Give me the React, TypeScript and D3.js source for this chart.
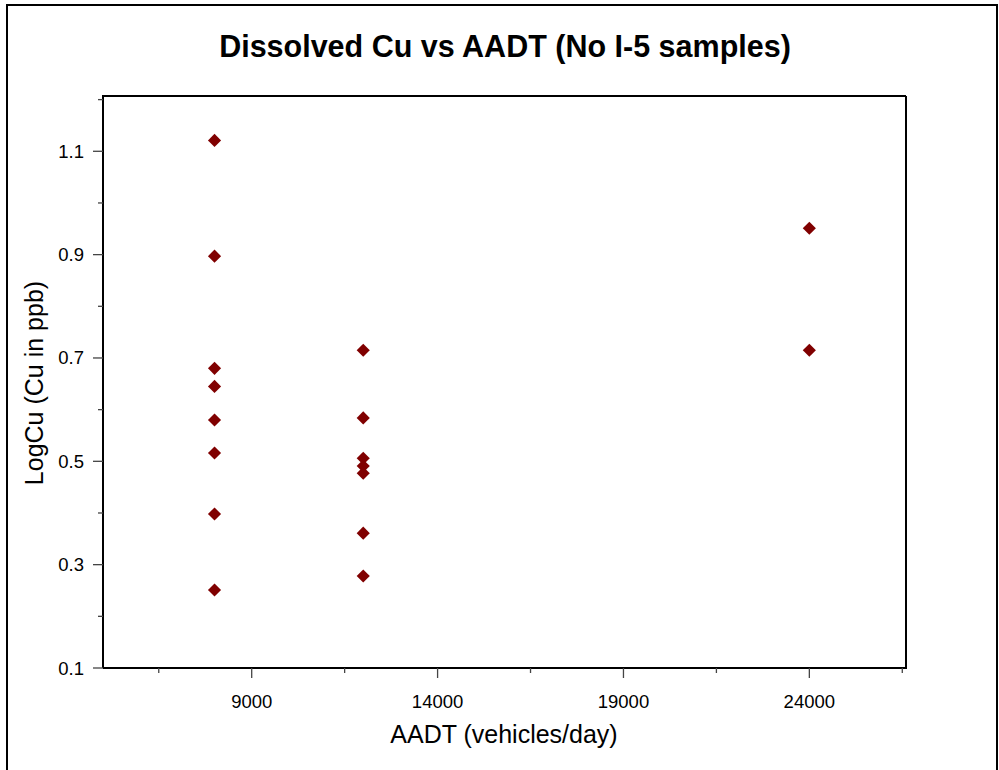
import React from "react";
import * as d3 from "d3";

const xValues = [8000, 8000, 8000, 8000, 8000, 8000, 8000, 8000, 12000, 12000, 12000, 12000, 12000, 12000, 12000, 24000, 24000];
const yValues = [1.121, 0.897, 0.68, 0.645, 0.58, 0.516, 0.398, 0.251, 0.715, 0.584, 0.506, 0.491, 0.477, 0.361, 0.278, 0.951, 0.715];
const xMajorTicks = [9000, 14000, 19000, 24000];
const xMinorTicks = [6500, 11500, 16500, 21500, 26500];
const yMajorTicks = [0.1, 0.3, 0.5, 0.7, 0.9, 1.1];
const yMinorTicks = [0.2, 0.4, 0.6, 0.8, 1.0, 1.2];

const W = 999, H = 770;
const L = 103, R = 906, T = 96, B = 668;

export default function App() {
  const x = d3.scaleLinear().domain([5000, 26600]).range([L, R]);
  const y = d3.scaleLinear().domain([0.1, 1.207]).range([B, T]);
  const diamond = d3.symbol().type(d3.symbolDiamond2).size(110)();
  const font = "Arial, 'Liberation Sans', sans-serif";
  return (
    <svg width={W} height={H} style={{ position: "absolute", left: 0, top: 0 }}>
      <rect x={0} y={0} width={W} height={H} fill="#fff" />
      <rect x={7} y={5} width={990} height={800} fill="none" stroke="#000" strokeWidth={2} />
      <text x={505} y={57} textAnchor="middle" fontFamily={font} fontWeight="bold" fontSize={30.5}>
        Dissolved Cu vs AADT (No I-5 samples)
      </text>
      {/* plot box */}
      <line x1={L} y1={T} x2={R} y2={T} stroke="#000" strokeWidth={2} />
      <line x1={R} y1={T} x2={R} y2={B} stroke="#000" strokeWidth={2} />
      <line x1={L} y1={T - 1} x2={L} y2={B} stroke="#000" strokeWidth={2} />
      <line x1={L} y1={B} x2={R + 1} y2={B} stroke="#000" strokeWidth={2} />
      {/* y ticks */}
      {yMajorTicks.map((t) => (
        <g key={"ym" + t}>
          <line x1={L - 10} x2={L} y1={y(t)} y2={y(t)} stroke="#444" strokeWidth={1.3} />
          <text x={84} y={y(t) + 6.5} textAnchor="end" fontFamily={font} fontSize={18.5}>{t.toFixed(1)}</text>
        </g>
      ))}
      {yMinorTicks.map((t) => (
        <line key={"yn" + t} x1={L - 5} x2={L} y1={y(t)} y2={y(t)} stroke="#444" strokeWidth={1.3} />
      ))}
      {/* x ticks */}
      {xMajorTicks.map((t) => (
        <g key={"xm" + t}>
          <line x1={x(t)} x2={x(t)} y1={B} y2={B + 10} stroke="#444" strokeWidth={1.3} />
          <text x={x(t)} y={708} textAnchor="middle" fontFamily={font} fontSize={18.5}>{t}</text>
        </g>
      ))}
      {xMinorTicks.map((t) => (
        <line key={"xn" + t} x1={x(t)} x2={x(t)} y1={B} y2={B + 5} stroke="#444" strokeWidth={1.3} />
      ))}
      <text x={504} y={743} textAnchor="middle" fontFamily={font} fontSize={25}>AADT (vehicles/day)</text>
      <text transform={`translate(43,383) rotate(-90)`} textAnchor="middle" fontFamily={font} fontSize={25}>
        LogCu (Cu in ppb)
      </text>
      {xValues.map((xv, i) => (
        <path key={i} d={diamond} transform={`translate(${x(xv)},${y(yValues[i])})`} fill="#800000" />
      ))}
    </svg>
  );
}
